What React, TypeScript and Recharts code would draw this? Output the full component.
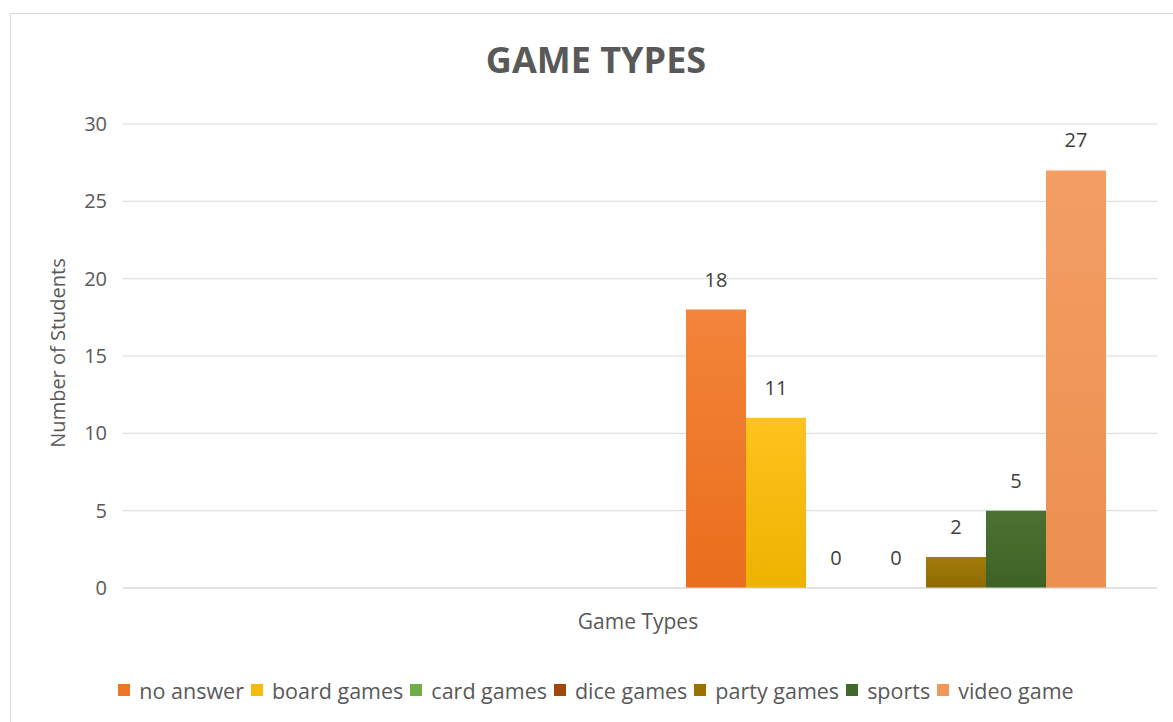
import React from 'react';
import { BarChart, Bar, XAxis, YAxis, CartesianGrid, Legend, LabelList } from 'recharts';

const categories = ['Game Types'];
const seriesNames = ['no answer', 'board games', 'card games', 'dice games', 'party games', 'sports', 'video game'];
const seriesValues = [18, 11, 0, 0, 2, 5, 27];
const seriesColors = ['#EE7524', '#F7BB0C', '#70AD47', '#9E480E', '#997300', '#43682B', '#F1975A'];
const seriesTop = ['#F3843A', '#FEC21E', '#78B54F', '#A64F14', '#A27B0A', '#4B7232', '#F49E64'];
const seriesBottom = ['#EA6E1C', '#EDB300', '#6AA542', '#96420A', '#8E6A00', '#3D6226', '#EC8F50'];
const yTicks = [0, 5, 10, 15, 20, 25, 30];

const FONT = '"Open Sans", sans-serif';
const TEXT = '#595959';

const keys = seriesNames.map((_, i) => `s${i}`);
const data = categories.map((c) => {
  const row: Record<string, any> = { name: c };
  keys.forEach((k, i) => {
    row[k] = seriesValues[i];
  });
  return row;
});

const LegendContent = () => (
  <div
    style={{
      display: 'flex',
      justifyContent: 'center',
      alignItems: 'center',
      height: 22,
      fontFamily: FONT,
      fontSize: 21.5,
      color: TEXT,
      whiteSpace: 'nowrap',
    }}
  >
    {seriesNames.map((n, i) => (
      <span key={n} style={{ display: 'inline-flex', alignItems: 'center', marginRight: i < seriesNames.length - 1 ? 7 : 0 }}>
        <span style={{ display: 'inline-block', width: 12, height: 12, background: seriesColors[i], marginRight: 9 }} />
        <span>{n}</span>
      </span>
    ))}
  </div>
);

const XTitle = (props: any) => {
  const vb = props.viewBox || {};
  return (
    <text
      x={vb.x + vb.width / 2 - 2}
      y={vb.y + 33}
      textAnchor="middle"
      dominantBaseline="central"
      fill={TEXT}
      fontFamily={FONT}
      fontSize={21}
    >
      Game Types
    </text>
  );
};

const YTitle = (props: any) => {
  const vb = props.viewBox || {};
  const cx = vb.x + 47;
  const cy = vb.y + vb.height / 2 - 3;
  return (
    <text
      x={cx}
      y={cy}
      transform={`rotate(-90 ${cx} ${cy})`}
      textAnchor="middle"
      dominantBaseline="central"
      fill={TEXT}
      fontFamily={FONT}
      fontSize={20}
    >
      Number of Students
    </text>
  );
};

const ValueLabel = (props: any) => {
  const { x, y, width, height, value } = props;
  if (x == null || y == null || value == null) return null;
  const top = Number(y) + Math.min(0, Number(height) || 0);
  return (
    <text
      x={Number(x) + Number(width) / 2}
      y={top - 23}
      textAnchor="middle"
      fill="#404040"
      fontFamily={FONT}
      fontSize={20}
    >
      {String(value)}
    </text>
  );
};

const tinyForZero = (value: any) => (Number(value) === 0 ? 0.01 : 0);

export default function App() {
  return (
    <div
      style={{
        position: 'fixed',
        left: 0,
        top: 0,
        width: 1173,
        height: 722,
        overflow: 'hidden',
        background: '#ffffff',
      }}
    >
      <div
        style={{
          position: 'absolute',
          left: 10,
          top: 13,
          width: 1200,
          height: 760,
          border: '1px solid #D9D9D9',
          boxSizing: 'border-box',
        }}
      />
      <div
        style={{
          position: 'absolute',
          left: 10,
          top: 35,
          width: 1172,
          textAlign: 'center',
          fontFamily: FONT,
          fontWeight: 700,
          fontSize: 36,
          lineHeight: '50px',
          color: TEXT,
        }}
      >
        GAME TYPES
      </div>
      <div style={{ position: 'absolute', left: 0, top: 0 }}>
        <BarChart
          width={1173}
          height={722}
          data={data}
          margin={{ top: 124, right: 16, left: 10, bottom: 21 }}
          barGap={0}
          barCategoryGap={0}
        >
          <defs>
            {keys.map((k, i) => (
              <linearGradient key={k} id={`g-${k}`} x1="0" y1="0" x2="0" y2="1">
                <stop offset="0%" stopColor={seriesTop[i]} />
                <stop offset="100%" stopColor={seriesBottom[i]} />
              </linearGradient>
            ))}
          </defs>
          <CartesianGrid vertical={false} stroke="#D9D9D9" />
          <XAxis
            dataKey="name"
            tick={false}
            tickLine={false}
            axisLine={{ stroke: '#D9D9D9' }}
            height={91}
            padding={{ left: 563, right: 48 }}
            label={<XTitle />}
          />
          <YAxis
            domain={[0, 30]}
            ticks={yTicks}
            width={113}
            axisLine={false}
            tickLine={false}
            tickSize={0}
            tickMargin={16}
            tick={{ fill: TEXT, fontSize: 20, fontFamily: FONT }}
            label={<YTitle />}
          />
          <Legend
            verticalAlign="bottom"
            content={<LegendContent />}
            wrapperStyle={{ left: 10, width: 1172 }}
          />
          {keys.map((k, i) => (
            <Bar
              key={k}
              dataKey={k}
              name={seriesNames[i]}
              fill={`url(#g-${k})`}
              minPointSize={tinyForZero}
              isAnimationActive={false}
            >
              <LabelList dataKey={k} content={<ValueLabel />} />
            </Bar>
          ))}
        </BarChart>
      </div>
    </div>
  );
}
